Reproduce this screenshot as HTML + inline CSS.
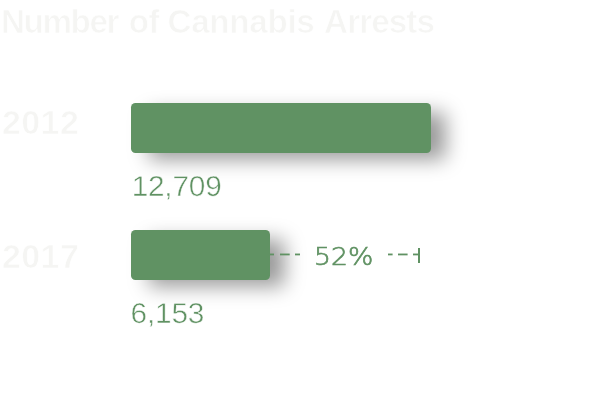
<!DOCTYPE html>
<html>
<head>
<meta charset="utf-8">
<title>Number of Cannabis Arrests</title>
<style>
html,body{margin:0;padding:0;background:#fff;}
body{width:601px;height:401px;position:relative;overflow:hidden;font-family:"Liberation Sans",sans-serif;}
.title{position:absolute;left:1px;top:0px;font-size:33.2px;font-weight:bold;color:#f5f5f3;-webkit-text-stroke:0.7px #fff;white-space:nowrap;line-height:44px;letter-spacing:-0.62px;}
.year{position:absolute;left:2px;font-size:34px;font-weight:bold;color:#f5f5f3;-webkit-text-stroke:0.7px #fff;line-height:40px;letter-spacing:0.4px;}
.bar{position:absolute;left:131px;height:50px;background:#609263;border-radius:4.5px;box-shadow:16px 8px 20px -1.5px rgba(0,0,0,0.4);}
.val{position:absolute;-webkit-text-stroke:0.5px #fff;transform-origin:0 0;font-size:28.8px;color:#609263;line-height:30px;white-space:nowrap;}
.pct{position:absolute;font-family:"DejaVu Sans",sans-serif;font-weight:200;font-size:25.5px;color:#609263;-webkit-text-stroke:0.7px #609263;letter-spacing:0.1px;transform:scaleX(1.045);transform-origin:0 0;line-height:30px;}
svg{position:absolute;left:0;top:0;}
</style>
</head>
<body>
<div class="title" id="title"><span id="w1" style="letter-spacing:-1.4px">Number</span> <span id="w2" style="margin-left:2.2px">of</span> <span id="w3" style="letter-spacing:-0.3px">Cannabis</span> <span id="w4" style="margin-left:1px;letter-spacing:-0.9px">Arrests</span></div>
<div class="year" id="y1" style="top:102px;">2012</div>
<div class="year" id="y2" style="top:236px;">2017</div>
<div class="bar" id="b1" style="top:103px;width:300px;"></div>
<div class="bar" id="b2" style="top:230px;width:139px;"></div>
<div class="val" id="v1" style="left:132px;top:171px;letter-spacing:-0.2px;transform:translate(-0.35px,0px) rotate(0.03deg) scaleX(1.035);">12,709</div>
<div class="val" id="v2" style="left:131px;top:298px;letter-spacing:-0.2px;transform:translate(-0.4px,0px) rotate(0.03deg) scaleX(1.035);">6,153</div>
<svg width="601" height="401">
<g fill="#609263">
<rect x="269" y="253.55" width="5" height="1.8"/>
<rect x="280" y="253.55" width="9.7" height="1.8"/>
<rect x="295" y="253.55" width="5" height="1.8"/>
<rect x="388" y="253.55" width="4.6" height="1.8"/>
<rect x="398" y="253.55" width="9.6" height="1.8"/>
<rect x="413" y="253.55" width="6" height="1.8"/>
<rect x="418" y="248" width="2" height="15"/>
</g>
</svg>
<div class="pct" id="pct" style="left:314px;top:241px;">52%</div>
</body>
</html>
